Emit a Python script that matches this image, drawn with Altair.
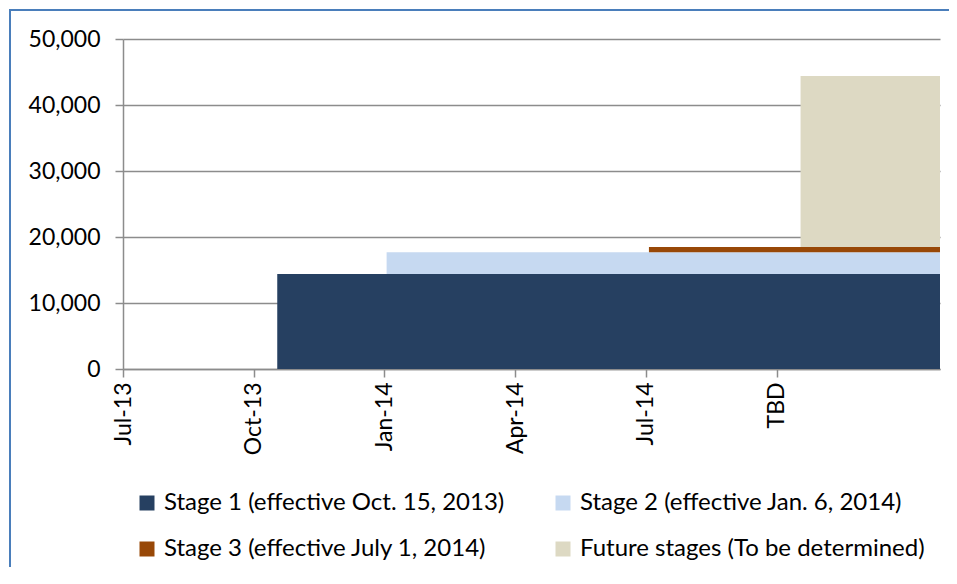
import altair as alt
import pandas as pd

# ---- data ----
stages = [
    "Stage 1 (effective Oct. 15, 2013)",
    "Stage 2 (effective Jan. 6, 2014)",
    "Stage 3 (effective July 1, 2014)",
    "Future stages (To be determined)",
]
# start of each stage, in months after Jul-2013
start_month = [3.54, 6.05, 12.07, 15.55]
# amount each stage adds on top of the previous ones
added = [14400, 3300, 800, 25900]
axis_end_month = 18.75

tick_months = [0, 3, 6, 9, 12, 15]
tick_labels = ["Jul-13", "Oct-13", "Jan-14", "Apr-14", "Jul-14", "TBD"]
y_ticks = [0, 10000, 20000, 30000, 40000, 50000]

colors = ["#264061", "#C6D9F1", "#984807", "#DDD9C3"]

# ---- build table ----
base = []
acc = 0
for v in added:
    base.append(acc)
    acc += v
df = pd.DataFrame({
    "stage": stages,
    "start": start_month,
    "end": [axis_end_month] * len(stages),
    "low": base,
    "high": [b + v for b, v in zip(base, added)],
})

FONT = "Lato"
GRAY = "#8C8C8C"

label_arr = "[" + ",".join("'%s'" % t for t in tick_labels) + "]"

rects = alt.Chart(df).mark_rect().encode(
    x=alt.X("start:Q",
            scale=alt.Scale(domain=[0, axis_end_month], nice=False, zero=False),
            axis=alt.Axis(values=tick_months, labelExpr=label_arr + "[round(datum.value/3)]",
                          labelAngle=-90, labelAlign="right", labelBaseline="middle",
                          labelPadding=5, tickSize=8, title=None, grid=False,
                          domainColor=GRAY, tickColor=GRAY, domainWidth=1.5, tickWidth=1.5)),
    x2="end:Q",
    y=alt.Y("low:Q",
            scale=alt.Scale(domain=[0, 50000], nice=False),
            axis=alt.Axis(values=y_ticks, format=",d", tickSize=8, labelPadding=15, title=None,
                          grid=True, gridColor=GRAY, gridWidth=1.5,
                          domainColor=GRAY, tickColor=GRAY, domainWidth=1.5, tickWidth=1.5)),
    y2="high:Q",
    color=alt.Color("stage:N",
                    scale=alt.Scale(domain=stages, range=colors),
                    sort=stages,
                    legend=alt.Legend(title=None, orient="none", legendX=12, legendY=452,
                                      direction="horizontal",
                                      columns=2, columnPadding=46, rowPadding=22,
                                      symbolType="square", symbolSize=225, symbolStrokeWidth=0,
                                      labelFontSize=24, labelFont=FONT, labelLimit=0,
                                      labelOffset=5, padding=0)),
)

frame = alt.Chart(pd.DataFrame({"f": [0]})).mark_rect(
    filled=False, stroke="#4A7EBB", strokeWidth=2
).encode(
    x=alt.value(-113), x2=alt.value(1000), y=alt.value(-29), y2=alt.value(700)
)

chart = alt.layer(rects, frame).properties(
    width=817, height=330,
    autosize=alt.AutoSizeParams(type="none"),
    padding={"left": 115, "top": 31, "right": 9, "bottom": 198},
).configure_axis(
    labelFont=FONT, labelFontSize=23, labelColor="#000000"
).configure_view(stroke=None).configure_legend(labelColor="#000000")

chart.save("out.html", embed_options={"renderer": "svg", "actions": False})
